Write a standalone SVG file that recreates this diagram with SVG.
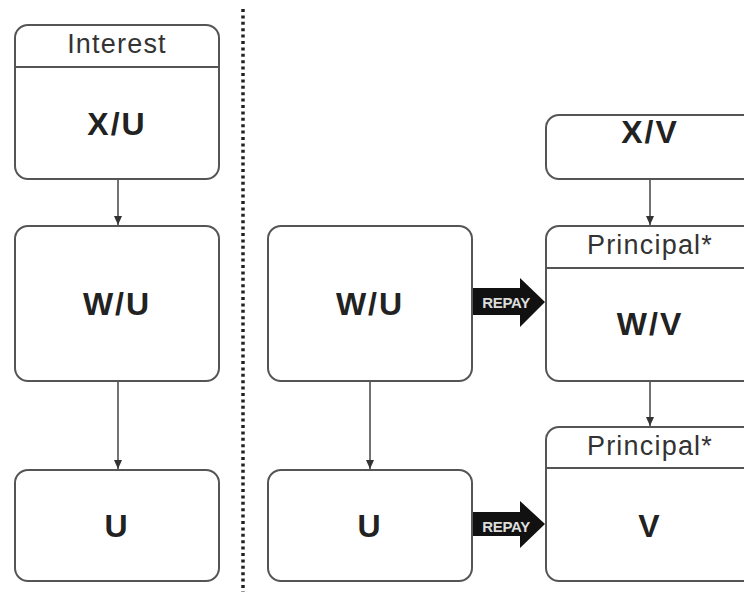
<svg xmlns="http://www.w3.org/2000/svg" width="744" height="592" viewBox="0 0 744 592">
<style>
.box{fill:#fff;stroke:#555;stroke-width:2}
.div{stroke:#555;stroke-width:2}
.con{stroke:#444;stroke-width:1.5;fill:none;marker-end:url(#ah)}
.hd{font-family:"Liberation Sans",Arial,sans-serif;font-size:27px;fill:#333;text-anchor:middle;letter-spacing:1.2px}
.lb{font-family:"Liberation Sans",Arial,sans-serif;font-size:32px;font-weight:bold;fill:#222;text-anchor:middle;letter-spacing:2px}
.rp{font-family:"Liberation Sans",Arial,sans-serif;font-size:15px;font-weight:bold;fill:#ddd;text-anchor:middle;letter-spacing:-0.3px}
</style>
<defs>
<marker id="ah" markerWidth="10" markerHeight="10" refX="9" refY="5" orient="auto" markerUnits="userSpaceOnUse">
<path d="M0,1 L9,5 L0,9 Z" fill="#333"/>
</marker>
</defs>
<rect width="744" height="592" fill="#fff"/>
<line x1="243" y1="9" x2="243" y2="592" stroke="#222" stroke-width="3.5" stroke-dasharray="3,3.4"/>

<g id="interest-xu">
<rect class="box" x="15" y="25" width="204" height="154" rx="13"/>
<line class="div" x1="15" y1="67" x2="219" y2="67"/>
<text class="hd" x="117" y="53">Interest</text>
<text class="lb" x="117" y="135">X/U</text>
</g>
<g id="wu-left">
<rect class="box" x="15" y="226" width="204" height="155" rx="13"/>
<text class="lb" x="117" y="315">W/U</text>
</g>
<g id="u-left">
<rect class="box" x="15" y="470" width="204" height="111" rx="13"/>
<text class="lb" x="117" y="537">U</text>
</g>
<g id="wu-right">
<rect class="box" x="268" y="226" width="204" height="155" rx="13"/>
<text class="lb" x="370" y="315">W/U</text>
</g>
<g id="u-right">
<rect class="box" x="268" y="470" width="204" height="111" rx="13"/>
<text class="lb" x="370" y="537">U</text>
</g>
<g id="xv">
<rect class="box" x="546" y="115" width="210" height="64" rx="13"/>
<text class="lb" x="650" y="143">X/V</text>
</g>
<g id="principal-wv">
<rect class="box" x="546" y="226" width="210" height="155" rx="13"/>
<line class="div" x1="546" y1="268" x2="744" y2="268"/>
<text class="hd" x="650" y="254">Principal*</text>
<text class="lb" x="650" y="335">W/V</text>
</g>
<g id="principal-v">
<rect class="box" x="546" y="427" width="210" height="154" rx="13"/>
<line class="div" x1="546" y1="468" x2="744" y2="468"/>
<text class="hd" x="650" y="455">Principal*</text>
<text class="lb" x="650" y="537">V</text>
</g>

<g id="connectors">
<line class="con" x1="118" y1="180" x2="118" y2="225"/>
<line class="con" x1="118" y1="382" x2="118" y2="469"/>
<line class="con" x1="370" y1="382" x2="370" y2="469"/>
<line class="con" x1="650" y1="180" x2="650" y2="225"/>
<line class="con" x1="650" y1="382" x2="650" y2="426"/>
<g id="repay-top">
<path d="M473,288 L520,288 L520,278 L545,302 L520,327 L520,315 L473,315 Z" fill="#111"/>
<text class="rp" x="506" y="308">REPAY</text>
</g>
<g id="repay-bottom">
<path d="M473,512 L520,512 L520,501 L545,524 L520,548 L520,536 L473,536 Z" fill="#111"/>
<text class="rp" x="506" y="532">REPAY</text>
</g>
</g>
</svg>
